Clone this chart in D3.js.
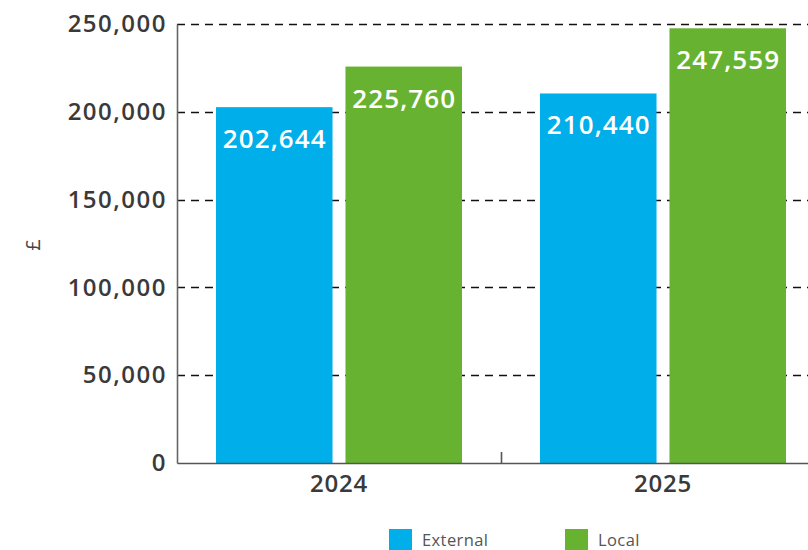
<!DOCTYPE html>
<html><head><meta charset="utf-8">
<script src="https://cdn.jsdelivr.net/npm/d3@7"></script>
<style>
html,body{margin:0;padding:0;background:#fff;overflow:hidden}
text{font-family:"Open Sans","Noto Sans",sans-serif}
</style></head>
<body><svg id="c" width="808" height="550"></svg>
<script>
const categories = ["2024", "2025"];
const seriesNames = ["External", "Local"];
const externalValues = [202644, 210440];
const localValues = [225760, 247559];
const yTicks = [0, 50000, 100000, 150000, 200000, 250000];
const colors = ["#00aee9", "#67b331"];

const seriesValues = [externalValues, localValues];
const svg = d3.select("#c");
const mLeft = 177, mRight = 825, mTop = 24, mBottom = 463;

const y = d3.scaleLinear().domain([0, 250000]).range([mBottom, mTop]);
const x0 = d3.scaleBand().domain(categories).range([mLeft, mRight]).padding(0);
const x1 = d3.scaleBand().domain(seriesNames).range([39, x0.bandwidth() - 39]).paddingInner(0.1);
const fmt = d3.format(",");

// gridlines
svg.append("g").selectAll("line").data(yTicks.filter(d => d > 0)).join("line")
  .attr("x1", mLeft).attr("x2", 808)
  .attr("y1", d => Math.round(y(d)) + 0.5).attr("y2", d => Math.round(y(d)) + 0.5)
  .attr("stroke", "#111").attr("stroke-width", 1.7).attr("stroke-dasharray", "8,6");

// bars
const groups = svg.append("g").selectAll("g").data(categories).join("g")
  .attr("transform", d => `translate(${x0(d)},0)`);
groups.each(function(cat, ci) {
  const g = d3.select(this);
  seriesNames.forEach((s, si) => {
    const v = seriesValues[si][ci];
    g.append("rect")
      .attr("x", x1(s)).attr("width", x1.bandwidth())
      .attr("y", y(v)).attr("height", mBottom - y(v))
      .attr("fill", colors[si]);
    g.append("text")
      .attr("x", x1(s) + x1.bandwidth() / 2 + 0.5).attr("y", y(v) + 41)
      .attr("text-anchor", "middle").attr("fill", "#fff")
      .attr("font-size", 26).attr("font-weight", 600)
      .attr("letter-spacing", 1.1)
      .text(fmt(v));
  });
});

// y axis
const yAxis = svg.append("g").attr("transform", `translate(${mLeft},0)`)
  .call(d3.axisLeft(y).tickValues(yTicks).tickFormat(fmt).tickSize(0).tickPadding(10));
yAxis.select(".domain").attr("stroke", "#666").attr("stroke-width", 1.6);
yAxis.selectAll("text").attr("font-size", 24).attr("font-weight", 600).attr("fill", "#3a3a3a")
  .attr("letter-spacing", 1.5)
  .attr("font-family", '"Open Sans",sans-serif');

// x axis
const xAxis = svg.append("g").attr("transform", `translate(0,${mBottom})`)
  .call(d3.axisBottom(x0).tickSize(0).tickPadding(12));
xAxis.select(".domain").attr("stroke", "#555").attr("stroke-width", 1.6);
xAxis.selectAll("text").attr("font-size", 24).attr("font-weight", 600).attr("fill", "#3a3a3a")
  .attr("letter-spacing", 0.8)
  .attr("font-family", '"Open Sans",sans-serif');
// separator ticks between categories
svg.append("g").selectAll("line").data(categories.slice(1)).join("line")
  .attr("x1", d => x0(d) + 0.5).attr("x2", d => x0(d) + 0.5)
  .attr("y1", mBottom).attr("y2", mBottom - 11)
  .attr("stroke", "#555").attr("stroke-width", 1.6);

// y label
svg.append("text").attr("transform", "translate(40,245) rotate(-90)")
  .attr("text-anchor", "middle").attr("font-size", 20).attr("fill", "#444").text("£");

// legend
const legendX = [389, 565];
seriesNames.forEach((s, i) => {
  svg.append("rect").attr("x", legendX[i]).attr("y", 529).attr("width", 23).attr("height", 22).attr("fill", colors[i]);
  svg.append("text").attr("x", legendX[i] + 33).attr("y", 546).attr("font-size", 16.5).attr("fill", "#555")
    .attr("letter-spacing", 0.4).text(s);
});
</script></body></html>
